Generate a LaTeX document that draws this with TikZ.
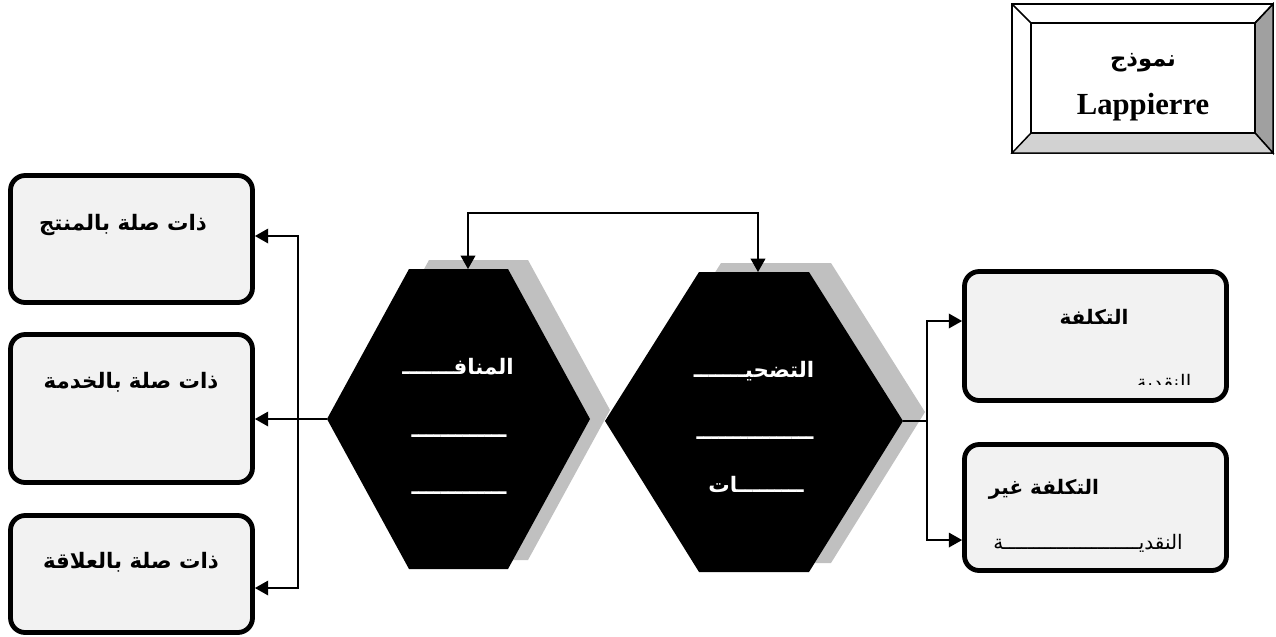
\documentclass[tikz,border=0pt]{standalone}
\usepackage{fontspec}
\setmainfont{Liberation Serif}
\newfontfamily\ar[Script=Arabic]{DejaVu Sans}
\TeXXeTstate=1
\usetikzlibrary{arrows.meta,calc}
\definecolor{boxfill}{HTML}{F2F2F2}
\definecolor{shadowgray}{HTML}{C0C0C0}
\definecolor{bevdark}{HTML}{A0A0A0}
\definecolor{bevlight}{HTML}{D2D2D2}
\begin{document}
\begin{tikzpicture}[x=0.75pt,y=-0.75pt,
  box/.style={draw=black,line width=3.6pt,fill=boxfill,rounded corners=11pt,minimum width=181.5pt,inner sep=0pt},
  rbox/.style={box,minimum width=196.5pt},
  conn/.style={line width=1.1pt},
  tip/.tip={Triangle[length=10pt,width=11pt]},
  arr/.style={conn,-tip},
  artext/.style={font=\ar\bfseries\fontsize{16}{18}\selectfont,anchor=base,inner sep=0pt},
  rtext/.style={artext,font=\ar\bfseries\fontsize{15}{17}\selectfont},
  rlight/.style={artext,font=\ar\fontsize{15}{17}\selectfont},
  hextext/.style={font=\ar\bfseries\fontsize{16}{18}\selectfont,text=white,anchor=base,inner sep=0pt},
  bevel/.style={draw=black,line width=1.1pt},
]
\useasboundingbox (0,0) rectangle (1276,636);

% ---- title frame
\filldraw[bevel,fill=white] (1012,4) rectangle (1273,153);
\filldraw[bevel,fill=bevdark] (1273,4) -- (1273,153) -- (1255,133) -- (1255,23) -- cycle;
\filldraw[bevel,fill=bevlight] (1012,153) -- (1273,153) -- (1255,133) -- (1031,133) -- cycle;
\draw[bevel] (1012,4) -- (1031,23) (1273,4) -- (1255,23);
\draw[bevel] (1031,23) rectangle (1255,133);
\node[font=\ar\bfseries\fontsize{17}{20}\selectfont,inner sep=0pt] (tt1) at (1143,63) {\beginR نموذج\endR};
\node[font=\bfseries\fontsize{23}{26}\selectfont,inner sep=0pt] (tt2) at (1143,107) {Lappierre};

% ---- hexagons
\fill[shadowgray] (347,410) -- (429,260) -- (528,260) -- (610,410) -- (528,560) -- (429,560) -- cycle;
\fill[black] (327,419) -- (409,269) -- (508,269) -- (590,419) -- (508,569) -- (409,569) -- cycle;
\fill[shadowgray] (627,412) -- (721,263) -- (831,263) -- (925,412) -- (831,563) -- (721,563) -- cycle;
\fill[black] (605,421) -- (699,272) -- (809,272) -- (903,421) -- (809,572) -- (699,572) -- cycle;
\coordinate (hl) at (327,419);
\coordinate (hr) at (903,421);
\coordinate (lt) at (468,269);
\coordinate (rt) at (758,272);
\coordinate (tj) at (613,213);

\node[hextext] (m1) at (458,374) {\beginR المنافـــــــ\endR};
\node[hextext] (m2) at (459,437) {\beginR ـــــــــــــ\endR};
\node[hextext] (m3) at (459,494) {\beginR ـــــــــــــ\endR};
\node[hextext] (s1) at (754,377) {\beginR التضحيـــــــ\endR};
\node[hextext] (s2) at (755,439) {\beginR ــــــــــــــــ\endR};
\node[hextext] (s3) at (756,492) {\beginR ـــــــــات\endR};

% ---- left boxes
\node[box,minimum height=95.25pt] (b1) at (131.5,239) {};
\node[box,minimum height=111pt] (b2) at (131.5,408.5) {};
\node[box,minimum height=87.75pt] (b3) at (131.5,574) {};
\node[artext] (t1) at (123,230) {\beginR ذات صلة بالمنتج\endR};
\node[artext] (t2) at (131,388) {\beginR ذات صلة بالخدمة\endR};
\node[artext] (t3) at (131,568) {\beginR ذات صلة بالعلاقة\endR};

% ---- right boxes
\node[rbox,minimum height=96.75pt] (r1) at (1095.5,336) {};
\node[rbox,minimum height=94.5pt] (r2) at (1095.5,507.5) {};
\node[rtext] (u1) at (1094,324) {\beginR التكلفة\endR};
\begin{scope}
\clip (966,300) rectangle (1225,384);
\node[rlight] (u2) at (1164,389) {\beginR النقدية\endR};
\end{scope}
\node[rtext] (v1) at (1044,494) {\beginR التكلفة غير\endR};
\node[rlight] (v2) at (1088,549) {\beginR النقديـــــــــــــــــــــــة\endR};

% ---- connectors
\coordinate (jl) at (298,419);
\coordinate (jr) at (927,421);
\draw[conn,tip-tip] (lt) |- (tj) -| (rt);
\draw[conn] (hl) -- (jl);
\draw[arr] (jl) |- ([yshift=2.25pt]b1.east);
\draw[arr] (jl) -- (b2.east |- jl);
\draw[arr] (jl) |- ([yshift=-10.5pt]b3.east);
\draw[conn] (hr) -- (jr);
\draw[arr] (jr) |- ([yshift=11.25pt]r1.west);
\draw[arr] (jr) |- ([yshift=-24.4pt]r2.west);
\end{tikzpicture}
\end{document}
